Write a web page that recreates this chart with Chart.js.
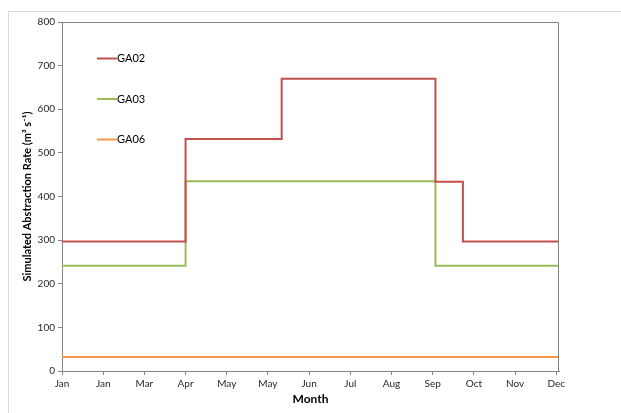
<!DOCTYPE html>
<html>
<head>
<meta charset="utf-8">
<script src="https://cdn.jsdelivr.net/npm/chart.js@4"></script>
<style>
  html, body { margin: 0; padding: 0; background: #ffffff; }
  #wrap { position: relative; width: 621px; height: 413px; }
</style>
</head>
<body>
<div id="wrap"><canvas id="c" width="621" height="413"></canvas></div>
<script>
// Day of year (0 = 1 Jan) at which each abstraction rate starts; last entry closes the year.
const ga02Days  = [0, 90, 160, 272, 292, 362];
const ga02Rates = [297, 532, 670, 434, 297, 297];
const ga03Days  = [0, 90, 272, 362];
const ga03Rates = [241, 435, 241, 241];
const ga06Days  = [0, 362];
const ga06Rates = [32, 32];

const seriesNames = ['GA02', 'GA03', 'GA06'];
// Date-axis ticks every 30 days from 1 Jan
const xTickDays = [0, 30, 60, 90, 120, 150, 180, 210, 240, 270, 300, 330, 360];
const monthNames = ['Jan','Feb','Mar','Apr','May','Jun','Jul','Aug','Sep','Oct','Nov','Dec'];
const monthLengths = [31,28,31,30,31,30,31,31,30,31,30,31];
const yTicks = [0, 100, 200, 300, 400, 500, 600, 700, 800];

const colors = ['#C0504D', '#9BBB59', '#F79646'];
const FONT = "Lato, 'Open Sans', sans-serif";

function monthOfDay(d) {
  let acc = 0;
  for (let m = 0; m < 12; m++) {
    acc += monthLengths[m];
    if (d < acc) return monthNames[m];
  }
  return 'Dec';
}

function toPoints(days, rates) {
  return days.map((d, i) => ({ x: d, y: rates[i] }));
}

// Outer frame of the chart object and the plot-area box
const framePlugin = {
  id: 'frame',
  beforeDraw(chart) {
    const ctx = chart.ctx;
    ctx.save();
    ctx.strokeStyle = '#d9d9d9';
    ctx.lineWidth = 1;
    ctx.beginPath();
    ctx.moveTo(8.5, 413);
    ctx.lineTo(8.5, 11.5);
    ctx.lineTo(621, 11.5);
    ctx.stroke();
    ctx.restore();
  },
  afterDatasetsDraw(chart) {
    const { ctx, chartArea: a } = chart;
    ctx.save();
    ctx.strokeStyle = '#868686';
    ctx.lineWidth = 1;
    ctx.beginPath();
    ctx.moveTo(Math.round(a.left) + 0.5, Math.round(a.top) + 0.5);
    ctx.lineTo(Math.round(a.right) - 0.5, Math.round(a.top) + 0.5);
    ctx.lineTo(Math.round(a.right) - 0.5, Math.round(a.bottom) + 0.5);
    ctx.stroke();
    ctx.restore();
  }
};

// Legend entries placed inside the plot area, one under another
const legendPlugin = {
  id: 'insideLegend',
  afterDraw(chart) {
    const ctx = chart.ctx;
    ctx.save();
    ctx.font = '11px ' + FONT;
    ctx.textBaseline = 'middle';
    ctx.textAlign = 'left';
    chart.data.datasets.forEach((ds, i) => {
      const y = 58.5 + i * 40.5;
      ctx.strokeStyle = ds.borderColor;
      ctx.lineWidth = 2;
      ctx.beginPath();
      ctx.moveTo(97, y);
      ctx.lineTo(117, y);
      ctx.stroke();
      ctx.fillStyle = '#000000';
      ctx.fillText(ds.label, 117, y);
    });
    ctx.restore();
  }
};

const allDays = [ga02Days, ga03Days, ga06Days];
const allRates = [ga02Rates, ga03Rates, ga06Rates];

new Chart(document.getElementById('c'), {
  type: 'line',
  data: {
    datasets: seriesNames.map((name, i) => ({
      label: name,
      data: toPoints(allDays[i], allRates[i]),
      borderColor: colors[i],
      backgroundColor: colors[i],
      borderWidth: 2,
      pointRadius: 0,
      stepped: 'before',
      fill: false
    }))
  },
  options: {
    responsive: false,
    animation: false,
    devicePixelRatio: 1,
    layout: { padding: { left: 21, top: 22, right: 62, bottom: 7 } },
    plugins: {
      legend: { display: false },
      tooltip: { enabled: false }
    },
    scales: {
      x: {
        type: 'linear',
        min: 0,
        max: ga02Days[ga02Days.length - 1],
        afterBuildTicks(scale) {
          scale.ticks = xTickDays.map(v => ({ value: v }));
        },
        afterFit(scale) { scale.height = 35; },
        ticks: {
          autoSkip: false,
          maxRotation: 0,
          padding: 3,
          color: '#262626',
          font: { family: FONT, size: 10 },
          callback: v => monthOfDay(v)
        },
        grid: { display: true, drawOnChartArea: false, drawTicks: true, tickLength: 4, color: '#868686' },
        border: { display: true, color: '#868686' },
        title: {
          display: true,
          text: 'Month',
          color: '#000000',
          font: { family: FONT, size: 12, weight: 'bold' },
          padding: { top: 2, bottom: 0 }
        }
      },
      y: {
        type: 'linear',
        min: 0,
        max: 800,
        afterBuildTicks(scale) {
          scale.ticks = yTicks.map(v => ({ value: v }));
        },
        afterFit(scale) { scale.width = 41; },
        ticks: {
          color: '#262626',
          padding: 3,
          font: { family: FONT, size: 10 }
        },
        grid: { display: true, drawOnChartArea: false, drawTicks: true, tickLength: 4, color: '#868686' },
        border: { display: true, color: '#868686' },
        title: {
          display: true,
          text: 'Simulated Abstraction Rate (m\u00B3 s\u207B\u00B9)',
          color: '#000000',
          font: { family: FONT, size: 11, weight: 'bold' },
          padding: { top: 0, bottom: 4 }
        }
      }
    }
  },
  plugins: [framePlugin, legendPlugin]
});
</script>
</body>
</html>
